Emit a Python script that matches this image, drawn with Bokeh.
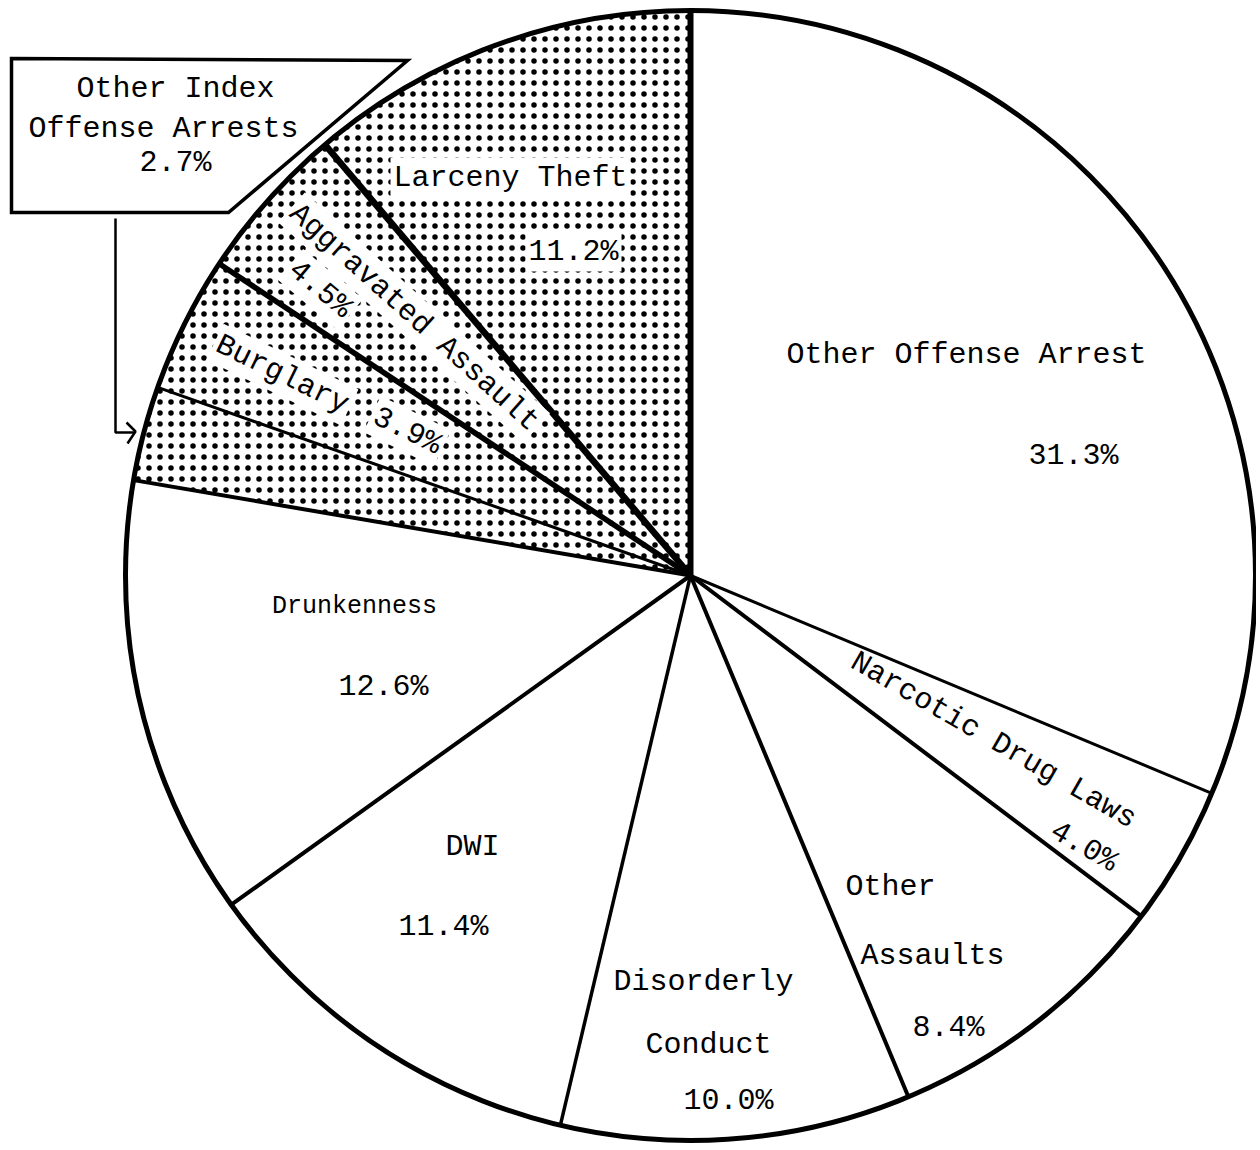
import math
from bokeh.plotting import figure
from bokeh.models import Range1d
from bokeh.core.properties import value
from bokeh.embed import file_html
from bokeh.resources import INLINE

# ---------------- data ----------------
categories = ["Other Offense Arrest", "Narcotic Drug Laws", "Other Assaults",
              "Disorderly Conduct", "DWI", "Drunkenness",
              "Other Index Offense Arrests", "Burglary", "Aggravated Assault",
              "Larceny Theft"]
percents = [31.3, 4.0, 8.4, 10.0, 11.4, 12.6, 2.7, 3.9, 4.5, 11.2]
index_offense = [False, False, False, False, False, False, True, True, True, True]
label_lines = [["Other Offense Arrest"], ["Narcotic Drug Laws"], ["Other", "Assaults"],
               ["Disorderly", "Conduct"], ["DWI"], ["Drunkenness"],
               ["Other Index", "Offense Arrests"], ["Burglary"], ["Aggravated Assault"],
               ["Larceny Theft"]]
pct_labels = [f"{v:.1f}%" for v in percents]

# ---------------- layout (page pixel coordinates) ----------------
W, H = 1256, 1146
def Y(ypix):
    return 1150 - ypix

CX, CY, R = 690, Y(575), 565
FONT = value("Liberation Mono")

def polar(deg, r):
    a = math.radians(deg)
    return CX + r * math.cos(a), 575 - r * math.sin(a)

# name lines positions (x, y, angle deg, size, white background) per category
nx, ny = polar(-28.6, 345)
px4, py4 = polar(-34.6, 478)
bx, by = polar(153.8, 455)
b3x, b3y = polar(153.0, 318)
ax_, ay_ = polar(137.0, 378)
a4x, a4y = polar(142.3, 468)
name_pos = [
    [(966, 354, 0, 30, False)],
    [(nx, ny, -30, 30, False)],
    [(890, 886, 0, 30, False), (932, 955, 0, 30, False)],
    [(703, 981, 0, 30, False), (708, 1044, 0, 30, False)],
    [(472, 846, 0, 30, False)],
    [(354, 606, 0, 25, False)],
    [(175, 88, 0, 30, False), (163, 128, 0, 30, False)],
    [(bx, by, -26, 30, True)],
    [(ax_, ay_, -42, 30, True)],
    [(510, 177, 0, 30, True)],
]
pct_pos = [
    (1073, 455, 0, 30, False),
    (px4, py4, -30, 30, False),
    (948, 1027, 0, 30, False),
    (728, 1100, 0, 30, False),
    (443, 926, 0, 30, False),
    (383, 686, 0, 30, False),
    (175, 162, 0, 30, False),
    (b3x, b3y, -26, 30, True),
    (a4x, a4y, -40, 30, True),
    (573, 251, 0, 30, True),
]
boundary_widths = [6, 3, 4, 4, 3.5, 4, 4, 3, 5.5, 6.5]

p = figure(width=W, height=H, output_backend="svg", toolbar_location=None,
           x_range=Range1d(0, W), y_range=Range1d(Y(H), Y(0)),
           min_border=0)
p.axis.visible = False
p.grid.visible = False
p.outline_line_color = None
p.background_fill_color = "white"
p.border_fill_color = "white"

# angles
total = sum(percents)
bounds = []
c = 0.0
for v in percents:
    bounds.append(math.pi / 2 - 2 * math.pi * c / total)
    c += v
bounds.append(math.pi / 2 - 2 * math.pi)

plain = [i for i in range(len(percents)) if not index_offense[i]]
dotted = [i for i in range(len(percents)) if index_offense[i]]

p.wedge(x=[CX] * len(plain), y=[CY] * len(plain), radius=R,
        start_angle=[bounds[i + 1] for i in plain], end_angle=[bounds[i] for i in plain],
        direction="anticlock", fill_color="white", line_color=None)
p.wedge(x=[CX] * len(dotted), y=[CY] * len(dotted), radius=R,
        start_angle=[bounds[i + 1] for i in dotted], end_angle=[bounds[i] for i in dotted],
        direction="anticlock", fill_color="white", line_color=None,
        hatch_pattern="dot", hatch_color="black", hatch_scale=11, hatch_weight=9)

# radial boundaries
for i in range(len(percents)):
    a = bounds[i]
    p.segment(x0=[CX], y0=[CY], x1=[CX + R * math.cos(a)], y1=[CY + R * math.sin(a)],
              line_color="black", line_width=boundary_widths[i])

# outer circle
p.arc(x=[CX], y=[CY], radius=R, start_angle=0, end_angle=2 * math.pi,
      line_color="black", line_width=5)

# callout box for Other Index Offense Arrests
p.patch(x=[11, 407, 228, 11], y=[Y(58), Y(60), Y(212), Y(212)],
        fill_color="white", line_color="black", line_width=3.5, line_join="miter")
p.line(x=[115, 115, 134], y=[Y(218), Y(432), Y(432)], line_color="black", line_width=2.5)
p.line(x=[126, 135, 127], y=[Y(422), Y(431), Y(443)], line_color="black", line_width=2.5)

def add_text(txt, pos):
    x, y, ang, size, bg = pos
    kw = dict(x=[x], y=[Y(y)], text=[txt], angle=math.radians(ang),
              text_font=FONT, text_font_size=f"{size}px", text_color="black",
              text_align="center", text_baseline="middle")
    if bg:
        kw.update(background_fill_color="white", padding=3)
    p.text(**kw)

for i in range(len(categories)):
    for line, pos in zip(label_lines[i], name_pos[i]):
        add_text(line, pos)
    add_text(pct_labels[i], pct_pos[i])

open("out.html", "w").write(file_html(p, INLINE))
